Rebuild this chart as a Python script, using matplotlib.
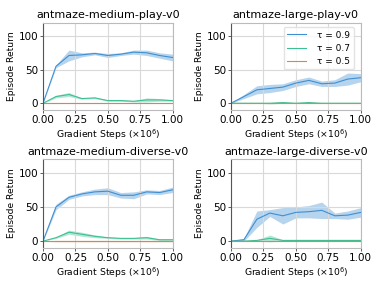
import numpy as np
import matplotlib
matplotlib.use('Agg')
import matplotlib.pyplot as plt

# Pasos de gradiente (x1e6)
steps = [0.0, 0.1, 0.2, 0.3, 0.4, 0.5, 0.6, 0.7, 0.8, 0.9, 1.0]

titles = ['antmaze-medium-play-v0', 'antmaze-large-play-v0',
          'antmaze-medium-diverse-v0', 'antmaze-large-diverse-v0']
labels = ['τ = 0.9', 'τ = 0.7', 'τ = 0.5']

# medias y desvios por tau (0.9, 0.7, 0.5)
mp_mean = [[0, 55, 71, 72, 74, 71, 73, 76, 75, 71, 68],
           [0, 10, 13, 7, 8, 4, 4, 3, 5, 5, 4],
           [0, 0, 0, 0, 0, 0, 0, 0, 0, 0, 0]]
mp_std = [[0, 2, 8, 3, 2, 3, 2, 3, 4, 4, 5],
          [0, 2, 3, 1, 1, 1, 1, 1, 3, 2, 1],
          [0, 0, 0, 0, 0, 0, 0, 0, 0, 0, 0]]

lp_mean = [[0, 10, 20, 22, 24, 30, 34, 29, 30, 36, 38],
           [0, 0, 0, 0, 1, 0, 1, 0, 0, 0, 0],
           [0, 0, 0, 0, 0, 0, 0, 0, 0, 0, 0]]
lp_std = [[0, 3, 6, 6, 5, 5, 5, 4, 5, 9, 6],
          [0, 0, 0, 1, 1, 0, 1, 0, 0, 0, 0],
          [0, 0, 0, 0, 0, 0, 0, 0, 0, 0, 0]]

md_mean = [[0, 50, 64, 69, 72, 73, 67, 67, 72, 71, 75],
           [0, 5, 13, 10, 7, 5, 4, 4, 5, 2, 2],
           [0, 0, 0, 0, 0, 0, 0, 0, 0, 0, 0]]
md_std = [[0, 4, 3, 3, 4, 5, 4, 5, 3, 3, 4],
          [0, 1, 3, 3, 2, 1, 1, 1, 2, 1, 1],
          [0, 1, 1, 1, 1, 1, 1, 1, 1, 1, 1]]

ld_mean = [[0, 2, 32, 41, 37, 42, 43, 45, 37, 38, 42],
           [0, 0, 1, 4, 1, 1, 1, 1, 1, 1, 1],
           [0, 0, 0, 0, 0, 0, 0, 0, 0, 0, 0]]
ld_std = [[0, 2, 12, 5, 12, 8, 9, 12, 4, 6, 7],
          [0, 0, 1, 5, 1, 0, 0, 1, 1, 1, 1],
          [0, 0, 0, 0, 0, 0, 0, 0, 0, 0, 0]]

means = [mp_mean, lp_mean, md_mean, ld_mean]
stds = [mp_std, lp_std, md_std, ld_std]

colors = ['#3f8fd2', '#3cbf94', '#e0853f']

fig = plt.figure(figsize=(3.81, 2.85), dpi=100)
pos = [[0.113, 0.614, 0.340, 0.307],
       [0.606, 0.614, 0.341, 0.307],
       [0.113, 0.130, 0.340, 0.312],
       [0.606, 0.130, 0.341, 0.312]]

x = np.array(steps)
for i in range(4):
    ax = fig.add_axes(pos[i])
    for k in range(3):
        m = np.array(means[i][k])
        s = np.array(stds[i][k])
        ax.fill_between(x, m - s, m + s, color=colors[k], alpha=0.38, lw=0)
        ax.plot(x, m, color=colors[k], lw=0.8, label=labels[k])
    ax.set_xlim(0, 1)
    ax.set_ylim(-10, 120)
    ax.set_xticks([0, 0.25, 0.5, 0.75, 1.0])
    ax.set_xticklabels(['0.00', '0.25', '0.50', '0.75', '1.00'])
    ax.set_yticks([0, 50, 100])
    ax.tick_params(labelsize=7.5, length=2, width=0.6, color='#444444', pad=1.5)
    ax.grid(True, color='#d9d9d9', lw=0.8)
    for sp in ax.spines.values():
        sp.set_color('#bbbbbb')
        sp.set_linewidth(0.8)
    ax.spines['left'].set_color('#555555')
    ax.set_title(titles[i], fontsize=8, pad=3)
    ax.set_ylabel('Episode Return', fontsize=6.6, labelpad=2)
    ax.set_xlabel(r'Gradient Steps ($\times 10^6$)', fontsize=6.7, labelpad=2)
    if i == 1:
        ax.legend(loc='upper right', fontsize=6.5, frameon=True,
                  handlelength=2.1, borderpad=0.4, labelspacing=0.45,
                  handletextpad=1.2, fancybox=True, edgecolor='#dddddd',
                  bbox_to_anchor=(0.98, 1.0))

fig.savefig('out.png', dpi=100)
